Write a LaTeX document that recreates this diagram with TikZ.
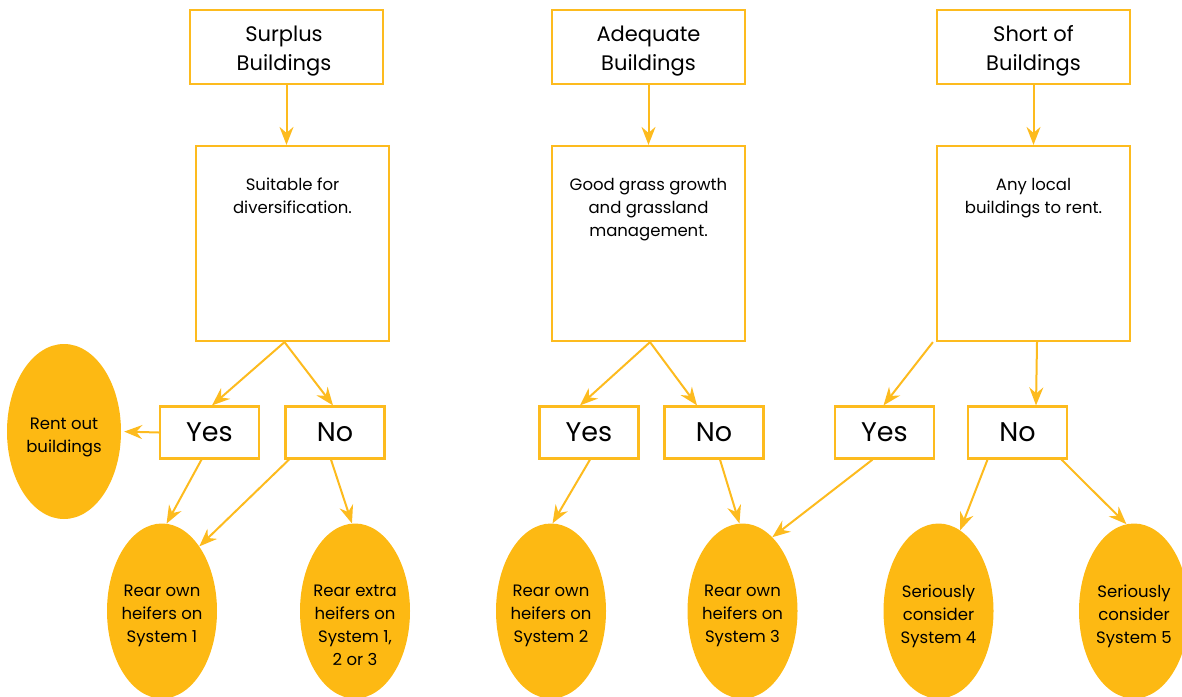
\documentclass[tikz,border=0pt]{standalone}
\usepackage{fontspec}
\setmainfont{Poppins}
\usetikzlibrary{shapes.geometric,arrows.meta}
\definecolor{gold}{HTML}{FDB913}
\definecolor{goldline}{HTML}{FDBB1E}
\begin{document}
\begin{tikzpicture}[x=1pt,y=-1pt,
  topbox/.style={draw=goldline, line width=2.2pt, minimum width=193pt, minimum height=74pt, inner sep=0pt},
  toptext/.style={align=center, inner sep=0pt, font=\fontsize{21}{29}\selectfont},
  midbox/.style={draw=goldline, line width=2.2pt, minimum width=193pt, minimum height=195pt, inner sep=0pt},
  midtext/.style={align=center, font=\fontsize{16.5}{23}\selectfont, anchor=north, inner sep=0pt},
  ansbox/.style={draw=goldline, line width=2.2pt, minimum width=99pt, minimum height=52pt, inner sep=0pt, font=\fontsize{27}{30}\selectfont},
  outcome/.style={ellipse, fill=gold, minimum width=110pt, minimum height=175pt, inner sep=0pt},
  outtext/.style={align=center, inner sep=0pt, font=\fontsize{16.5}{23}\selectfont},
  arr/.style={draw=goldline, line width=2pt, -{Stealth[length=18pt,width=14pt,inset=6pt]}}
]
\useasboundingbox (0,0) rectangle (1182,696);

% top boxes
\node[topbox] (t1) at (286.5,47) {};
\node[topbox] (t2) at (648.5,47) {};
\node[topbox] (t3) at (1033.5,47) {};
\node[toptext] (t1t) at (284,51) {Surplus\\Buildings};
\node[toptext] (t2t) at (648.5,51) {Adequate\\Buildings};
\node[toptext] (t3t) at (1033.5,51) {Short of\\Buildings};

% middle boxes
\node[midbox] (m1) at (292.5,243.5) {};
\node[midbox] (m2) at (648.5,243.5) {};
\node[midbox] (m3) at (1033.5,243.5) {};
\node[midtext] (m1t) at (292.5,178) {Suitable for\\diversification.};
\node[midtext] (m2t) at (648.5,178) {Good grass growth\\and grassland\\management.};
\node[midtext] (m3t) at (1033.5,178) {Any local\\buildings to rent.};

% answer boxes
\node[ansbox] (y1) at (209.5,432.5) {Yes};
\node[ansbox] (n1) at (335,432.5) {No};
\node[ansbox] (y2) at (589,432.5) {Yes};
\node[ansbox] (n2) at (714,432.5) {No};
\node[ansbox] (y3) at (884.5,432.5) {Yes};
\node[ansbox] (n3) at (1017.5,432.5) {No};

% outcomes
\node[outcome, minimum width=114pt] (rent) at (64,431.5) {};
\node[outcome] (o1) at (162,611) {};
\node[outcome] (o2) at (355,611) {};
\node[outcome] (o3) at (551,611) {};
\node[outcome] (o4) at (742.5,611) {};
\node[outcome] (o5) at (938.5,611) {};
\node[outcome] (o6) at (1134,611) {};
\node[outtext] (rentt) at (64,437) {Rent out\\buildings};
\node[outtext] (o1t) at (162,616) {Rear own\\heifers on\\System 1};
\node[outtext] (o2t) at (355,625) {Rear extra\\heifers on\\System 1,\\2 or 3};
\node[outtext] (o3t) at (551,616) {Rear own\\heifers on\\System 2};
\node[outtext] (o4t) at (742.5,616) {Rear own\\heifers on\\System 3};
\node[outtext] (o5t) at (938.5,616) {Seriously\\consider\\System 4};
\node[outtext] (o6t) at (1134,616) {Seriously\\consider\\System 5};

% connectors
\draw[arr] (t1.south) -- (t1.south |- m1.north);
\draw[arr] (t2.south) -- (t2.south |- m2.north);
\draw[arr] (t3.south) -- (t3.south |- m3.north);

\draw[arr] ([xshift=-8pt]m1.south) -- ([xshift=2.5pt]y1.north);
\draw[arr] ([xshift=-8pt]m1.south) -- ([xshift=-2pt]n1.north);
\draw[arr, shorten >=3pt] (y1.west) -- (rent.east);
\draw[arr] ([xshift=-8pt]y1.south) -- (o1.87);
\draw[arr] ([xshift=-46pt]n1.south) -- (o1.60);
\draw[arr] ([xshift=-4pt]n1.south) -- (o2.92);

\draw[arr] ([xshift=1.5pt]m2.south) -- ([xshift=-9pt]y2.north);
\draw[arr] ([xshift=1.5pt]m2.south) -- ([xshift=-17pt]n2.north);
\draw[arr] ([xshift=1pt]y2.south) -- (o3.89);
\draw[arr] ([xshift=6pt]n2.south) -- (o4.92);

\draw[arr] ([xshift=-3pt]m3.south west) -- ([xshift=-1pt]y3.north);
\draw[arr] ([xshift=3.5pt]m3.south) -- ([xshift=18.5pt]n3.north);
\draw[arr] ([xshift=-12pt]y3.south) -- (o4.68);
\draw[arr] ([xshift=-30pt]n3.south) -- (o5.75);
\draw[arr] ([xshift=44pt]n3.south) -- (o6.95);
\end{tikzpicture}
\end{document}
